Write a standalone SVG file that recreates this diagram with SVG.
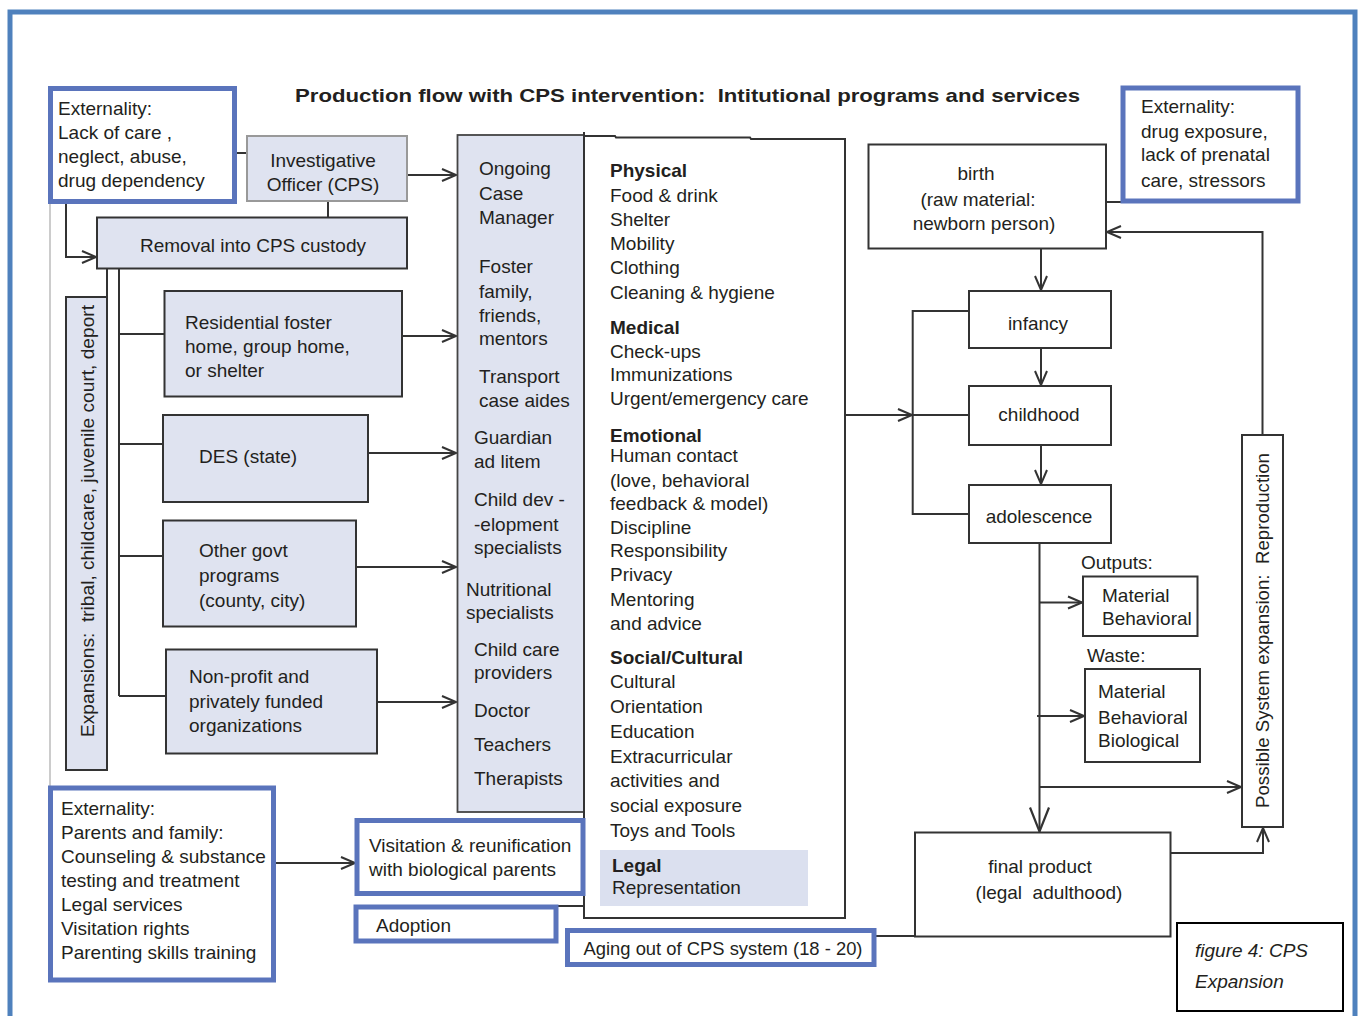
<svg xmlns="http://www.w3.org/2000/svg" width="1359" height="1016" viewBox="0 0 1359 1016">
  <defs>
    <style>
      .t { font-family: "Liberation Sans", Arial, sans-serif; font-size: 19px; fill: #231f20; }
      .b { font-weight: bold; }
      .mid { text-anchor: middle; }
      .pre { white-space: pre; }
      .shade { fill: #dfe3f0; stroke: #333; stroke-width: 2; }
      .plain { fill: #fff; stroke: #333; stroke-width: 2; }
      .ext { fill: #fff; stroke: #5a74bc; stroke-width: 5; }
      .conn { fill: none; stroke: #333; stroke-width: 2; }
    </style>
    <marker id="arr" markerUnits="userSpaceOnUse" markerWidth="18" markerHeight="16" viewBox="-16 -8 18 16" refX="0" refY="0" orient="auto">
      <path d="M-14,-6 L0,0 L-14,6" fill="none" stroke="#333" stroke-width="2"/>
    </marker>
    <marker id="arrBig" markerUnits="userSpaceOnUse" markerWidth="28" markerHeight="24" viewBox="-26 -12 28 24" refX="0" refY="0" orient="auto">
      <path d="M-24,-9.5 L0,0 L-24,9.5" fill="none" stroke="#333" stroke-width="2.2"/>
    </marker>
  </defs>

  <rect width="1359" height="1016" fill="#fff"/>
  <!-- page frame -->
  <rect x="10" y="12" width="1345" height="1030" fill="none" stroke="#4f81bd" stroke-width="5"/>

  <text class="t b mid pre" x="687.5" y="102" font-size="21" textLength="785" lengthAdjust="spacingAndGlyphs" xml:space="preserve">Production flow with CPS intervention:  Intitutional programs and services</text>

  <!-- connectors -->
  <g id="connectors">
    <path d="M50,204 V787" fill="none" stroke="#aaa" stroke-width="1.2"/>
    <path class="conn" d="M235,153 H247"/>
    <path class="conn" d="M407,175 H456" marker-end="url(#arr)"/>
    <path class="conn" d="M328,201 V217.5"/>
    <path class="conn" d="M66,204 V257 H96" marker-end="url(#arr)"/>
    <path class="conn" d="M107,268.5 V297"/>
    <path class="conn" d="M119,268.5 V696"/>
    <path class="conn" d="M119,334 H164.5"/>
    <path class="conn" d="M119,444 H163"/>
    <path class="conn" d="M119,556 H163"/>
    <path class="conn" d="M119,696 H166"/>
    <path class="conn" d="M402,336 H456" marker-end="url(#arr)"/>
    <path class="conn" d="M368,453 H456" marker-end="url(#arr)"/>
    <path class="conn" d="M356,567 H456" marker-end="url(#arr)"/>
    <path class="conn" d="M377,702 H456" marker-end="url(#arr)"/>
    <path class="conn" d="M276,863 H355" marker-end="url(#arr)"/>
    <path class="conn" d="M556,906 H584"/>
    <path class="conn" d="M876,936 H915"/>
    <path class="conn" d="M845,415 H912" marker-end="url(#arr)"/>
    <path class="conn" d="M912,415 H969"/>
    <path class="conn" d="M969,311 H912.7 V514 H969"/>
    <path class="conn" d="M1041,248.5 V290" marker-end="url(#arr)"/>
    <path class="conn" d="M1041,348 V385" marker-end="url(#arr)"/>
    <path class="conn" d="M1041,445 V484" marker-end="url(#arr)"/>
    <path class="conn" d="M1039.5,542.5 V831.5" marker-end="url(#arrBig)"/>
    <path class="conn" d="M1039.5,602.5 H1082" marker-end="url(#arr)"/>
    <path class="conn" d="M1037,716 H1084" marker-end="url(#arr)"/>
    <path class="conn" d="M1039.5,787 H1241" marker-end="url(#arr)"/>
    <path class="conn" d="M1170.5,853 H1263 V828" marker-end="url(#arr)"/>
    <path class="conn" d="M1262.5,435 V232 H1107" marker-end="url(#arr)"/>
    <path class="conn" d="M1106,202 H1124 V198"/>
  </g>

  <g id="ext-care">
    <rect class="ext" x="50.5" y="88.5" width="184" height="113"/>
    <text class="t" x="58" y="115">Externality:</text>
    <text class="t" x="58" y="139">Lack of care ,</text>
    <text class="t" x="58" y="163">neglect, abuse,</text>
    <text class="t" x="58" y="187">drug dependency</text>
  </g>

  <g id="investigative">
    <rect x="247" y="136" width="160" height="65" fill="#dfe3f0" stroke="#999" stroke-width="2"/>
    <text class="t mid" x="323" y="167">Investigative</text>
    <text class="t mid" x="323" y="191">Officer (CPS)</text>
  </g>

  <g id="removal">
    <rect class="shade" x="97" y="217.5" width="310" height="51"/>
    <text class="t mid" x="253" y="252">Removal into CPS custody</text>
  </g>

  <g id="expansions">
    <rect class="shade" x="66" y="297" width="41" height="473"/>
    <text class="t mid pre" transform="translate(93.5,521) rotate(-90)" textLength="432" lengthAdjust="spacingAndGlyphs" xml:space="preserve">Expansions:  tribal, childcare, juvenile court, deport</text>
  </g>

  <g id="residential">
    <rect class="shade" x="164.5" y="291" width="237.5" height="105.5"/>
    <text class="t" x="185" y="329">Residential foster</text>
    <text class="t" x="185" y="353">home, group home,</text>
    <text class="t" x="185" y="377">or shelter</text>
  </g>

  <g id="des">
    <rect class="shade" x="163" y="415" width="205" height="87"/>
    <text class="t" x="199" y="463">DES (state)</text>
  </g>

  <g id="other-govt">
    <rect class="shade" x="163" y="520.5" width="193" height="106"/>
    <text class="t" x="199" y="557">Other govt</text>
    <text class="t" x="199" y="582">programs</text>
    <text class="t" x="199" y="607">(county, city)</text>
  </g>

  <g id="non-profit">
    <rect class="shade" x="166" y="649.5" width="211" height="104"/>
    <text class="t" x="189" y="683">Non-profit and</text>
    <text class="t" x="189" y="708">privately funded</text>
    <text class="t" x="189" y="732">organizations</text>
  </g>

  <g id="providers">
    <rect x="457.5" y="135" width="126.5" height="677" fill="#dfe3f0" stroke="#444" stroke-width="1.8"/>
    <text class="t" x="479" y="175">Ongoing</text>
    <text class="t" x="479" y="200">Case</text>
    <text class="t" x="479" y="224">Manager</text>
    <text class="t" x="479" y="273">Foster</text>
    <text class="t" x="479" y="298">family,</text>
    <text class="t" x="479" y="322">friends,</text>
    <text class="t" x="479" y="345">mentors</text>
    <text class="t" x="479" y="383">Transport</text>
    <text class="t" x="479" y="407">case aides</text>
    <text class="t" x="474" y="444">Guardian</text>
    <text class="t" x="474" y="468">ad litem</text>
    <text class="t" x="474" y="506">Child dev -</text>
    <text class="t" x="474" y="531">-elopment</text>
    <text class="t" x="474" y="554">specialists</text>
    <text class="t" x="466" y="596">Nutritional</text>
    <text class="t" x="466" y="619">specialists</text>
    <text class="t" x="474" y="656">Child care</text>
    <text class="t" x="474" y="679">providers</text>
    <text class="t" x="474" y="717">Doctor</text>
    <text class="t" x="474" y="751">Teachers</text>
    <text class="t" x="474" y="785">Therapists</text>
  </g>

  <g id="needs">
    <path d="M584,136 H615 L616,137.5 H750 L751,139 H845 V918 H584 V132" fill="#fff" stroke="#333" stroke-width="2"/>
    <rect x="600" y="850" width="208" height="56" fill="#dbe0ef"/>
    <text class="t b" x="610" y="177">Physical</text>
    <text class="t" x="610" y="202">Food &amp; drink</text>
    <text class="t" x="610" y="226">Shelter</text>
    <text class="t" x="610" y="250">Mobility</text>
    <text class="t" x="610" y="274">Clothing</text>
    <text class="t" x="610" y="299">Cleaning &amp; hygiene</text>
    <text class="t b" x="610" y="334">Medical</text>
    <text class="t" x="610" y="358">Check-ups</text>
    <text class="t" x="610" y="381">Immunizations</text>
    <text class="t" x="610" y="405">Urgent/emergency care</text>
    <text class="t b" x="610" y="442">Emotional</text>
    <text class="t" x="610" y="462">Human contact</text>
    <text class="t" x="610" y="487">(love, behavioral</text>
    <text class="t" x="610" y="510">feedback &amp; model)</text>
    <text class="t" x="610" y="534">Discipline</text>
    <text class="t" x="610" y="557">Responsibility</text>
    <text class="t" x="610" y="581">Privacy</text>
    <text class="t" x="610" y="606">Mentoring</text>
    <text class="t" x="610" y="630">and advice</text>
    <text class="t b" x="610" y="664">Social/Cultural</text>
    <text class="t" x="610" y="688">Cultural</text>
    <text class="t" x="610" y="713">Orientation</text>
    <text class="t" x="610" y="738">Education</text>
    <text class="t" x="610" y="763">Extracurricular</text>
    <text class="t" x="610" y="787">activities and</text>
    <text class="t" x="610" y="812">social exposure</text>
    <text class="t" x="610" y="837">Toys and Tools</text>
    <text class="t b" x="612" y="872">Legal</text>
    <text class="t" x="612" y="894">Representation</text>
  </g>

  <g id="birth">
    <rect class="plain" x="868.5" y="144.5" width="237.5" height="104"/>
    <text class="t mid" x="976" y="180">birth</text>
    <text class="t mid" x="978" y="206">(raw material:</text>
    <text class="t mid" x="984" y="230">newborn person)</text>
  </g>

  <g id="ext-prenatal">
    <rect class="ext" x="1123" y="88" width="175" height="113"/>
    <text class="t" x="1141" y="113">Externality:</text>
    <text class="t" x="1141" y="138">drug exposure,</text>
    <text class="t" x="1141" y="161">lack of prenatal</text>
    <text class="t" x="1141" y="187">care, stressors</text>
  </g>

  <g id="infancy">
    <rect class="plain" x="969" y="291" width="142" height="57"/>
    <text class="t mid" x="1038" y="330">infancy</text>
  </g>

  <g id="childhood">
    <rect class="plain" x="969" y="386" width="142" height="59"/>
    <text class="t mid" x="1039" y="421">childhood</text>
  </g>

  <g id="adolescence">
    <rect class="plain" x="969" y="485" width="142" height="58"/>
    <text class="t mid" x="1039" y="523">adolescence</text>
  </g>

  <g id="outputs">
    <text class="t" x="1081" y="569">Outputs:</text>
    <rect class="plain" x="1083" y="576.5" width="114.5" height="59.5"/>
    <text class="t" x="1102" y="602">Material</text>
    <text class="t" x="1102" y="625">Behavioral</text>
  </g>

  <g id="waste">
    <text class="t" x="1087" y="662">Waste:</text>
    <rect class="plain" x="1085" y="669" width="115" height="93"/>
    <text class="t" x="1098" y="698">Material</text>
    <text class="t" x="1098" y="724">Behavioral</text>
    <text class="t" x="1098" y="747">Biological</text>
  </g>

  <g id="reproduction">
    <rect class="plain" x="1242" y="435" width="41" height="392"/>
    <text class="t mid pre" transform="translate(1269,630.5) rotate(-90)" textLength="355" lengthAdjust="spacingAndGlyphs" xml:space="preserve">Possible System expansion:  Reproduction</text>
  </g>

  <g id="final-product">
    <rect class="plain" x="915" y="832.5" width="255.5" height="104"/>
    <text class="t mid" x="1040" y="873">final product</text>
    <text class="t mid pre" x="1049" y="899" xml:space="preserve">(legal  adulthood)</text>
  </g>

  <g id="caption">
    <rect x="1177" y="923" width="166" height="88" fill="#fff" stroke="#000" stroke-width="2"/>
    <text class="t" x="1195" y="957" font-size="21" font-style="italic" fill="#000">figure 4: CPS</text>
    <text class="t" x="1195" y="988" font-size="21" font-style="italic" fill="#000">Expansion</text>
  </g>

  <g id="aging-out">
    <rect class="ext" x="567.5" y="930.5" width="306.5" height="34"/>
    <text class="t" x="583.5" y="955" textLength="279" lengthAdjust="spacingAndGlyphs">Aging out of CPS system (18 - 20)</text>
  </g>

  <g id="visitation">
    <rect class="ext" x="357" y="820.5" width="226" height="73"/>
    <text class="t" x="369" y="852">Visitation &amp; reunification</text>
    <text class="t" x="369" y="876">with biological parents</text>
  </g>

  <g id="adoption">
    <rect class="ext" x="356" y="907" width="200" height="34"/>
    <text class="t" x="376" y="932">Adoption</text>
  </g>

  <g id="ext-parents">
    <rect class="ext" x="50.5" y="788" width="223" height="192"/>
    <text class="t" x="61" y="815">Externality:</text>
    <text class="t" x="61" y="839">Parents and family:</text>
    <text class="t" x="61" y="863">Counseling &amp; substance</text>
    <text class="t" x="61" y="887">testing and treatment</text>
    <text class="t" x="61" y="911">Legal services</text>
    <text class="t" x="61" y="935">Visitation rights</text>
    <text class="t" x="61" y="959">Parenting skills training</text>
  </g>
</svg>
